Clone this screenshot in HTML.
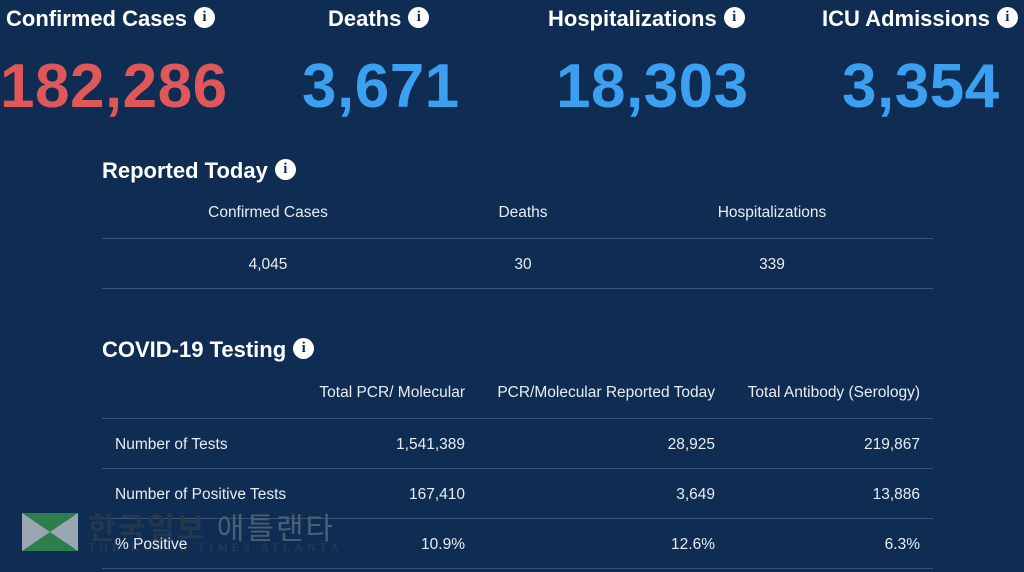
<!DOCTYPE html>
<html><head><meta charset="utf-8"><style>
body{margin:0;width:1024px;height:572px;background:#0f2d52;color:#fff;font-family:"Liberation Sans",sans-serif;position:relative;overflow:hidden}
.a{position:absolute;white-space:nowrap}
.h{font-weight:bold;font-size:22px;letter-spacing:0}
.n{font-weight:bold;font-size:62px;letter-spacing:0.5px}
.i{display:inline-block;width:21px;height:21px;border-radius:50%;background:#fff;color:#0f2d52;font-size:15px;text-align:center;line-height:21px;font-weight:bold;vertical-align:5px;margin-left:7px;font-family:"Liberation Serif",serif}
.t{font-size:15.5px;color:#e8edf3}
.l{position:absolute;left:102px;width:831px;height:1px;background:#3a5677}
.r{text-align:right;transform:translateX(-100%)}
.c{transform:translateX(-50%)}
</style></head><body>
<div class="a h" style="left:6px;top:6px">Confirmed Cases<span class="i">i</span></div>
<div class="a h" style="left:328px;top:6px">Deaths<span class="i">i</span></div>
<div class="a h" style="left:548px;top:6px">Hospitalizations<span class="i">i</span></div>
<div class="a h" style="left:822px;top:6px">ICU Admissions<span class="i">i</span></div>
<div class="a n" style="left:0px;top:51px;color:#e0575a">182,286</div>
<div class="a n" style="left:302px;top:51px;color:#3ba0f0">3,671</div>
<div class="a n" style="left:556px;top:51px;color:#3ba0f0">18,303</div>
<div class="a n" style="left:842px;top:51px;color:#3ba0f0">3,354</div>
<div class="a h" style="left:102px;top:158px">Reported Today<span class="i">i</span></div>
<div class="a t c" style="left:268px;top:204px">Confirmed Cases</div>
<div class="a t c" style="left:523px;top:204px">Deaths</div>
<div class="a t c" style="left:772px;top:204px">Hospitalizations</div>
<div class="l" style="top:238px"></div>
<div class="a t c" style="left:268px;top:256px">4,045</div>
<div class="a t c" style="left:523px;top:256px">30</div>
<div class="a t c" style="left:772px;top:256px">339</div>
<div class="l" style="top:288px"></div>
<div class="a h" style="left:102px;top:337px">COVID-19 Testing<span class="i">i</span></div>
<div class="a t r" style="left:465px;top:384px">Total PCR/ Molecular</div>
<div class="a t r" style="left:715px;top:384px">PCR/Molecular Reported Today</div>
<div class="a t r" style="left:920px;top:384px">Total Antibody (Serology)</div>
<div class="l" style="top:418px"></div>
<div class="a t" style="left:115px;top:436px">Number of Tests</div>
<div class="a t r" style="left:465px;top:436px">1,541,389</div>
<div class="a t r" style="left:715px;top:436px">28,925</div>
<div class="a t r" style="left:920px;top:436px">219,867</div>
<div class="l" style="top:468px"></div>
<div class="a t" style="left:115px;top:486px">Number of Positive Tests</div>
<div class="a t r" style="left:465px;top:486px">167,410</div>
<div class="a t r" style="left:715px;top:486px">3,649</div>
<div class="a t r" style="left:920px;top:486px">13,886</div>
<div class="l" style="top:518px"></div>
<svg class="a" style="left:22px;top:513px" width="56" height="38"><rect width="56" height="38" fill="#9aa7b3"/><polygon points="0,0 56,0 28,19" fill="#2e7d4f"/><polygon points="0,38 56,38 28,19" fill="#2e7d4f"/></svg>
<div class="a" style="left:88px;top:504px;font-size:30px;letter-spacing:2px;font-weight:bold;color:#26384e;font-family:'Liberation Sans','Noto Sans CJK KR',sans-serif">한국일보 <span style="color:#4a5e75;font-weight:normal">애틀랜타</span></div>
<div class="a" style="left:88px;top:540px;font-size:12px;letter-spacing:4px;color:#2c3f56;font-family:'Liberation Serif',serif">THE KOREA TIMES ATLANTA</div>
<div class="a t" style="left:115px;top:536px">% Positive</div>
<div class="a t r" style="left:465px;top:536px">10.9%</div>
<div class="a t r" style="left:715px;top:536px">12.6%</div>
<div class="a t r" style="left:920px;top:536px">6.3%</div>
<div class="l" style="top:568px"></div>
</body></html>
